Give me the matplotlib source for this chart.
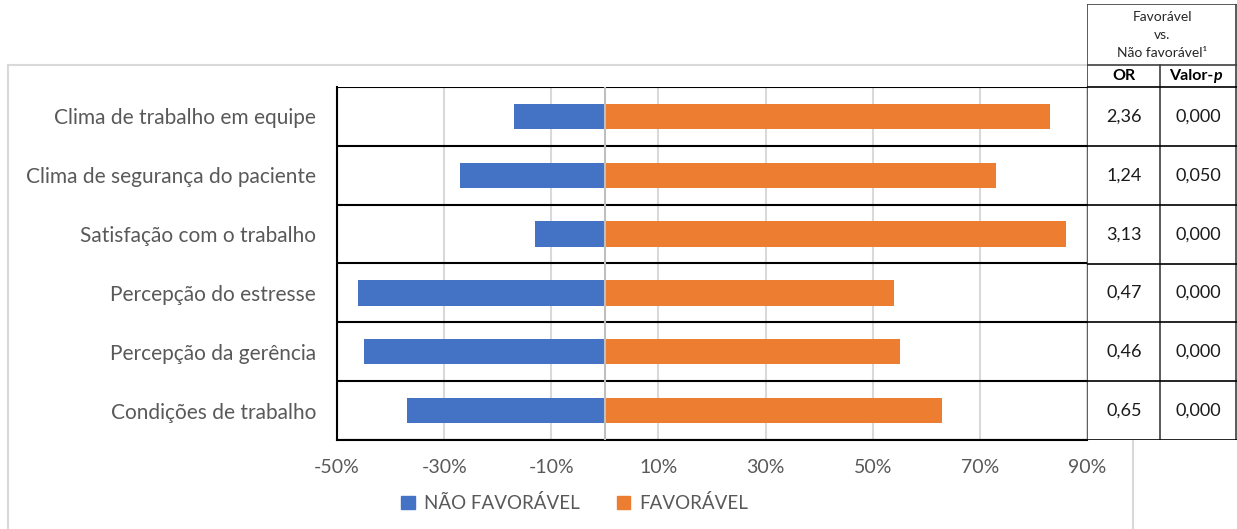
import numpy as np
import matplotlib.pyplot as plt
from matplotlib.patches import Rectangle
from matplotlib.lines import Line2D

plt.rcParams['font.family'] = ['Lato', 'DejaVu Sans']

categories = ["Clima de trabalho em equipe", "Clima de segurança do paciente",
              "Satisfação com o trabalho", "Percepção do estresse",
              "Percepção da gerência", "Condições de trabalho"]
nao_favoravel = [-17, -27, -13, -46, -45, -37]
favoravel = [83, 73, 86, 54, 55, 63]
or_vals = ["2,36", "1,24", "3,13", "0,47", "0,46", "0,65"]
p_vals = ["0,000", "0,050", "0,000", "0,000", "0,000", "0,000"]
xticks = [-50, -30, -10, 10, 30, 50, 70, 90]

W, H = 1237, 529
fig = plt.figure(figsize=(W / 100, H / 100), dpi=100)

def frac(x0, y0, x1, y1):
    # pixel box (top-left origin) -> figure fraction rect
    return [x0 / W, 1 - y1 / H, (x1 - x0) / W, (y1 - y0) / H]

# light frame around the chart
fig.patches.append(Rectangle((8 / W, -0.01), (1133 - 8) / W, 1 - 65 / H + 0.01,
                             transform=fig.transFigure, fill=False,
                             edgecolor='#d9d9d9', lw=1.5, zorder=-1))

ax = fig.add_axes(frac(337, 87, 1087, 440))
y = np.arange(len(categories))
blue, orange = '#4472C4', '#ED7D31'
ax.barh(y, nao_favoravel, height=0.43, color=blue, zorder=3)
ax.barh(y, favoravel, height=0.43, color=orange, zorder=3)

ax.set_xlim(-50, 90)
ax.set_ylim(len(categories) - 0.5, -0.5)
ax.set_xticks(xticks)
ax.set_xticklabels([f"{t}%" for t in xticks])
ax.set_yticks(y)
ax.set_yticklabels(categories)
ax.tick_params(axis='both', length=0, colors='#595959')
ax.tick_params(axis='x', pad=14, labelsize=14)
ax.tick_params(axis='y', pad=15, labelsize=15)
for t in xticks:
    ax.axvline(t, color='#d9d9d9', lw=1.5, zorder=1)
ax.axvline(0, color='#bfbfbf', lw=1.5, zorder=4)
for b in np.arange(-0.5, len(categories), 1):
    ax.axhline(b, color='black', lw=1.5, zorder=2)
for s in ['top', 'right']:
    ax.spines[s].set_visible(False)
ax.spines['left'].set_linewidth(1.5)
ax.spines['bottom'].set_linewidth(1.5)

# legend
handles = [Rectangle((0, 0), 1, 1, color=blue), Rectangle((0, 0), 1, 1, color=orange)]
fig.legend(handles, ["NÃO FAVORÁVEL", "FAVORÁVEL"], loc='center',
           bbox_to_anchor=(575 / W, 1 - 503 / H), ncol=2, frameon=False,
           fontsize=13.5, labelcolor='#595959', handlelength=0.7, handleheight=0.7,
           columnspacing=2.0, handletextpad=0.5)

# OR / p-value table on the right
tx = fig.add_axes(frac(1087, 4, 1237, 440))
tx.set_xlim(1087, 1237)
tx.set_ylim(440, 4)
tx.axis('off')
tx.add_patch(Rectangle((1087, 4), 150, 436, facecolor='white', edgecolor='none', zorder=0))
row_edges = [87, 146, 205, 264, 322, 381, 440]
lc = '#404040'
tx.add_line(Line2D([1087, 1087], [4, 440], color=lc, lw=1.2))
tx.add_line(Line2D([1236, 1236], [4, 440], color=lc, lw=1.2))
tx.add_line(Line2D([1160, 1160], [65, 440], color=lc, lw=1.2))
tx.add_line(Line2D([1087, 1237], [4.5, 4.5], color=lc, lw=1.2))
tx.add_line(Line2D([1087, 1237], [65, 65], color=lc, lw=1.2))
for r in row_edges:
    tx.add_line(Line2D([1087, 1237], [r, r], color='black', lw=1.2))
tx.text(1162, 17, "Favorável", ha='center', va='center', fontsize=10, color='#262626')
tx.text(1162, 35, "vs.", ha='center', va='center', fontsize=10, color='#262626')
tx.text(1162, 53, "Não favorável¹", ha='center', va='center', fontsize=10, color='#262626')
tx.text(1124, 76, "OR", ha='center', va='center', fontsize=11.5, weight='bold', color='black')
tx.text(1213, 76, "Valor-", ha='right', va='center', fontsize=11.5, weight='bold', color='black')
tx.text(1213, 76, "p", ha='left', va='center', fontsize=11.5, weight='bold',
        style='italic', color='black')
for i in range(len(categories)):
    yc = (row_edges[i] + row_edges[i + 1]) / 2
    tx.text(1124, yc, or_vals[i], ha='center', va='center', fontsize=13, color='#1a1a1a')
    tx.text(1198, yc, p_vals[i], ha='center', va='center', fontsize=13, color='#1a1a1a')

fig.savefig('out.png', dpi=100)
